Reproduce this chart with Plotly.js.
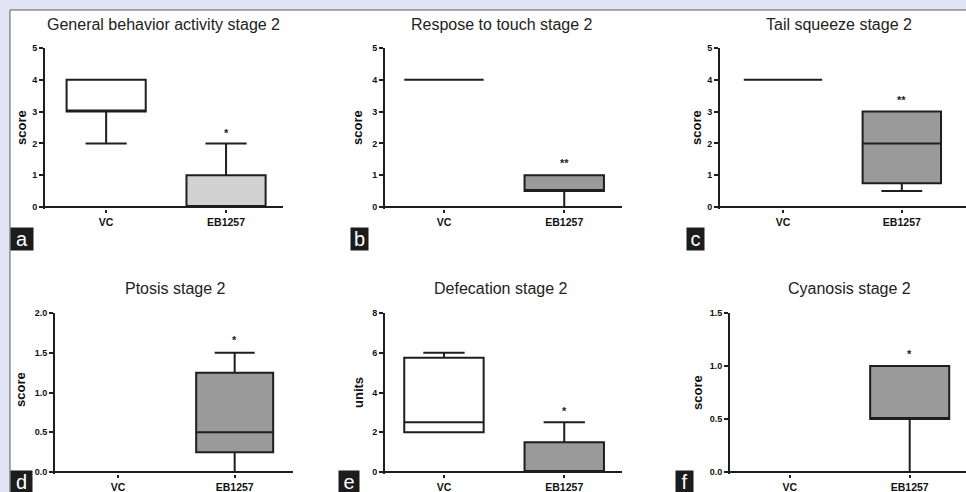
<!DOCTYPE html>
<html>
<head>
<meta charset="utf-8">
<script src="https://cdn.plot.ly/plotly-3.0.1.min.js"></script>
<style>html,body{margin:0;padding:0;background:#dfe3f2;}#chart{width:966px;height:492px;}</style>
</head>
<body>
<div id="chart"></div>
<script>
// ---- data ----
const categories = ['VC', 'EB1257'];
const panelTitles = ['General behavior activity stage 2', 'Respose to touch stage 2', 'Tail squeeze stage 2',
                     'Ptosis stage 2', 'Defecation stage 2', 'Cyanosis stage 2'];
const panelLetters = ['a', 'b', 'c', 'd', 'e', 'f'];
const yTitles = ['score', 'score', 'score', 'score', 'units', 'score'];

// box statistics per panel: [VC, EB1257]
const a_q1 = [3, 0],    a_med = [3, 0],    a_q3 = [4, 1],    a_lo = [2, 0],   a_hi = [4, 2];
const b_q1 = [4, 0.5],  b_med = [4, 0.5],  b_q3 = [4, 1],    b_lo = [4, 0],   b_hi = [4, 1];
const c_q1 = [4, 0.75], c_med = [4, 2],    c_q3 = [4, 3],    c_lo = [4, 0.5], c_hi = [4, 3];
const d_q1 = [0, 0.25], d_med = [0, 0.5],  d_q3 = [0, 1.25], d_lo = [0, 0],   d_hi = [0, 1.5];
const e_q1 = [2, 0],    e_med = [2.5, 0],  e_q3 = [5.75, 1.5], e_lo = [2, 0], e_hi = [6, 2.5];
const f_q1 = [0, 0.5],  f_med = [0, 0.5],  f_q3 = [0, 1],    f_lo = [0, 0],   f_hi = [0, 1];

// significance marks (above EB1257)
const sigText = ['*', '**', '**', '*', '*', '*'];
const sigY = [2.33, 1.38, 3.36, 1.66, 3.05, 1.11];

// y-axis ticks
const yTicksA = [0, 1, 2, 3, 4, 5];
const yTicksD = [0, 0.5, 1, 1.5, 2];
const yTicksD_txt = ['0.0', '0.5', '1.0', '1.5', '2.0'];
const yTicksE = [0, 2, 4, 6, 8];
const yTicksF = [0, 0.5, 1, 1.5];
const yTicksF_txt = ['0.0', '0.5', '1.0', '1.5'];

// ---- layout geometry (pixels) ----
const W = 966, H = 492;
const px = v => v / W, py = v => (H - v) / H;

const stats = [
  [a_q1, a_med, a_q3, a_lo, a_hi],
  [b_q1, b_med, b_q3, b_lo, b_hi],
  [c_q1, c_med, c_q3, c_lo, c_hi],
  [d_q1, d_med, d_q3, d_lo, d_hi],
  [e_q1, e_med, e_q3, e_lo, e_hi],
  [f_q1, f_med, f_q3, f_lo, f_hi]
];
const ebFill = ['#d2d2d2', '#9a9a9a', '#9a9a9a', '#9a9a9a', '#9a9a9a', '#9a9a9a'];

// plot area in px: x0, x1, yt (pixel of y max), yz (pixel of y = 0), x range
const geo = [
  {x0: 45, x1: 283, yt: 48, yz: 207, xr: [-0.51, 1.475]},
  {x0: 385, x1: 622, yt: 48, yz: 207, xr: [-0.49, 1.48]},
  {x0: 720, x1: 966, yt: 48, yz: 207, xr: [-0.53, 1.54]},
  {x0: 55, x1: 293, yt: 313, yz: 472, xr: [-0.54, 1.5]},
  {x0: 385, x1: 622, yt: 313, yz: 472, xr: [-0.49, 1.48]},
  {x0: 730, x1: 966, yt: 313, yz: 472, xr: [-0.5, 1.47]}
];
const GAP = 2; // px between zero line and domain bottom
const yMax = [5, 5, 5, 2, 8, 1.5];
const yTickSets = [
  [yTicksA, yTicksA.map(String)], [yTicksA, yTicksA.map(String)], [yTicksA, yTicksA.map(String)],
  [yTicksD, yTicksD_txt], [yTicksE, yTicksE.map(String)], [yTicksF, yTicksF_txt]
];
const titlePos = [[163, 24], [502, 24], [839, 24], [175, 288], [501, 288], [849, 288]];
const yTitlePos = [[22, 128], [358, 128], [697, 128], [20, 390], [358, 393], [697, 393]];
const letterPos = [[10, 227, 22], [350, 227, 17], [686, 227, 17], [10, 470, 21], [338, 470, 20], [675, 470, 17]];

const lineCol = '#1e1e1e';
const FAM = 'Liberation Sans, Arial, sans-serif';
const tickFont = {family: FAM, size: 9, color: '#111', weight: 700};

const data = [];
const layout = {
  width: W, height: H,
  margin: {l: 0, r: 0, t: 0, b: 0},
  paper_bgcolor: '#dfe3f2',
  plot_bgcolor: 'rgba(0,0,0,0)',
  showlegend: false,
  boxmode: 'overlay',
  shapes: [{
    type: 'rect', xref: 'paper', yref: 'paper', layer: 'below',
    x0: px(10), x1: 1.01, y0: -0.01, y1: py(10),
    line: {color: '#5a5a5a', width: 1}, fillcolor: '#ffffff'
  }],
  annotations: []
};

for (let i = 0; i < 6; i++) {
  const n = i === 0 ? '' : String(i + 1);
  const xa = 'x' + n, ya = 'y' + n;
  const s = stats[i];
  for (let c = 0; c < 2; c++) {
    data.push({
      type: 'box', xaxis: xa, yaxis: ya,
      x: [categories[c]],
      q1: [s[0][c]], median: [s[1][c]], q3: [s[2][c]],
      lowerfence: [s[3][c]], upperfence: [s[4][c]],
      width: 0.66, whiskerwidth: 0.52,
      boxpoints: false,
      fillcolor: c === 0 ? '#ffffff' : ebFill[i],
      line: {color: lineCol, width: 2},
      hoverinfo: 'skip'
    });
  }
  const g = geo[i];
  const onePx = yMax[i] / (g.yz - g.yt);
  const yb = g.yz + GAP;
  layout['xaxis' + n] = {
    domain: [px(g.x0), px(g.x1)], anchor: ya,
    type: 'category', categoryorder: 'array', categoryarray: categories,
    range: g.xr, showgrid: false, zeroline: false,
    showline: false,
    ticks: 'outside', ticklen: 3, tickwidth: 2, tickcolor: lineCol,
    tickfont: {family: FAM, size: 10.5, color: '#111', weight: 700},
    fixedrange: true
  };
  layout['yaxis' + n] = {
    domain: [py(yb), py(g.yt)], anchor: xa,
    range: [-GAP * onePx, yMax[i]], showgrid: false,
    zeroline: true, zerolinecolor: lineCol, zerolinewidth: 2,
    showline: true, linecolor: lineCol, linewidth: 2,
    tickmode: 'array', tickvals: yTickSets[i][0], ticktext: yTickSets[i][1],
    ticks: 'outside', ticklen: 4, tickwidth: 2, tickcolor: lineCol,
    tickfont: tickFont, fixedrange: true
  };
  // significance
  layout.annotations.push({
    xref: xa, yref: ya, x: categories[1], y: sigY[i], text: sigText[i],
    showarrow: false, font: {family: FAM, size: 11, color: '#222', weight: 700},
    yanchor: 'middle'
  });
  // panel title
  layout.annotations.push({
    xref: 'paper', yref: 'paper', x: px(titlePos[i][0]), y: py(titlePos[i][1]),
    text: panelTitles[i], showarrow: false, xanchor: 'center', yanchor: 'middle',
    font: {family: FAM, size: 16, color: '#222'}
  });
  // y title
  layout.annotations.push({
    xref: 'paper', yref: 'paper', x: px(yTitlePos[i][0]), y: py(yTitlePos[i][1]),
    text: yTitles[i], showarrow: false, textangle: -90, xanchor: 'center', yanchor: 'middle',
    font: {family: FAM, size: 13, color: '#111', weight: 700}
  });
  // panel letter
  const L = letterPos[i];
  layout.annotations.push({
    xref: 'paper', yref: 'paper', x: px(L[0]), y: py(L[1]),
    xanchor: 'left', yanchor: 'top', width: L[2], height: 22, borderpad: 0,
    text: panelLetters[i], showarrow: false, bgcolor: '#1c1c1c',
    font: {family: FAM, size: 20, color: '#ffffff'}
  });
}

Plotly.newPlot('chart', data, layout, {staticPlot: true, displayModeBar: false});
</script>
</body>
</html>
